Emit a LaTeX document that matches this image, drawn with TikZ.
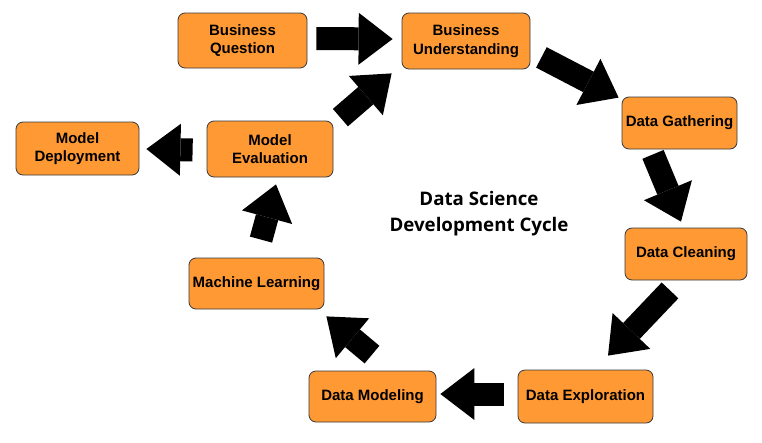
\documentclass[tikz,border=0pt]{standalone}
\usepackage{fontspec}
\setmainfont{Liberation Sans}
\newfontfamily\titlefont{Open Sans}
\usetikzlibrary{arrows.meta}

\definecolor{boxorange}{RGB}{255,153,51}
\definecolor{boxline}{RGB}{54,57,61}

\tikzset{
    stage/.style={draw=boxline, fill=boxorange, line width=0.8pt, rounded corners=7pt,
        align=center, inner sep=2pt, minimum height=52pt,
        font=\bfseries\fontsize{15}{18.5}\selectfont},
    bigarrow/.style={line width=23pt, black,
        -{Triangle[width=52pt,length=34pt,line width=0pt]}}
}

\begin{document}
\begin{tikzpicture}[x=1pt,y=-1pt]
        \useasboundingbox (0,0) rectangle (762,442);

        % stages of the cycle
        \node[stage, minimum width=129pt, minimum height=55pt] (BQ) at (242.5,40.5) {Business\\Question};
        \node[stage, minimum width=128pt, minimum height=56pt] (BU) at (466,41) {Business\\Understanding};
        \node[stage, minimum width=115pt] (DG) at (679.5,123) {Data Gathering};
        \node[stage, minimum width=122pt] (DC) at (686,254) {Data Cleaning};
        \node[stage, minimum width=135pt, minimum height=53pt] (DE) at (585.5,396.5) {Data Exploration};
        \node[stage, minimum width=127pt, minimum height=51pt] (DM) at (372.5,396.5) {Data Modeling};
        \node[stage, minimum width=135pt, minimum height=51pt] (ML) at (256.5,283.5) {Machine Learning};
        \node[stage, minimum width=126pt, minimum height=56pt] (ME) at (270,149) {Model\\Evaluation};
        \node[stage, minimum width=123pt, minimum height=53pt] (MD) at (77.5,148.5) {Model\\Deployment};

        % title in the middle
        \node[font=\titlefont\bfseries\fontsize{18.7}{26}\selectfont, align=center] (title) at (479,214)
            {Data Science\\Development Cycle};

        % arrows between the stages
        \draw[bigarrow] ([xshift=9pt,yshift=2pt]BQ.east) -- ([xshift=-9pt,yshift=2pt]BU.west);
        \draw[bigarrow] ([xshift=11pt,yshift=12pt]BU.south east) -- ([xshift=-3pt,yshift=-1pt]DG.north west);
        \draw[bigarrow] ([xshift=-26.5pt,yshift=-5pt]DG.south) -- ([xshift=-5pt,yshift=6pt]DC.north);
        \draw[bigarrow] ([xshift=-16pt,yshift=-10pt]DC.south) -- ([xshift=22.5pt,yshift=14pt]DE.north);
        \draw[bigarrow] ([xshift=-14pt,yshift=2.5pt]DE.west) -- ([xshift=4pt,yshift=2.5pt]DM.east);
        \draw[bigarrow] ([xshift=-0.5pt,yshift=16pt]DM.north) -- ([xshift=2pt,yshift=-7pt]ML.south east);
        \draw[bigarrow] ([xshift=4.5pt,yshift=18pt]ML.north) -- ([xshift=6pt,yshift=-7pt]ME.south);
        \draw[bigarrow] ([xshift=7pt,yshift=3pt]ME.north east) -- ([xshift=-10pt,yshift=-4pt]BU.south west);
        \draw[bigarrow] ([xshift=-14pt,yshift=-1pt]ME.west) -- ([xshift=7pt,yshift=-0.5pt]MD.east);
\end{tikzpicture}
\end{document}
